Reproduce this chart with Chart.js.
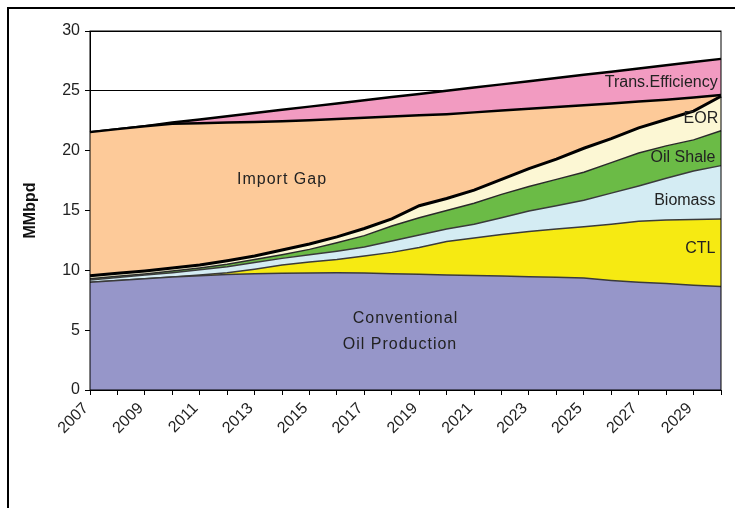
<!DOCTYPE html>
<html lang="en">
<head>
<meta charset="UTF-8">
<title>Oil supply chart</title>
<script src="https://cdn.jsdelivr.net/npm/chart.js"></script>
<style>
    html, body { margin: 0; padding: 0; background: #fff; }
    #wrap { position: relative; width: 735px; height: 508px; overflow: hidden; }
    #frame { position: absolute; left: 7px; top: 7px; width: 780px; height: 560px;
             border-top: 2px solid #000; border-left: 2px solid #000; pointer-events: none; }
</style>
</head>
<body>
<div id="wrap">
    <canvas id="oilChart" width="735" height="508"></canvas>
    <div id="frame"></div>
</div>
<script>
    // values, MMbpd per year
    const years = ['2007','2008','2009','2010','2011','2012','2013','2014','2015','2016','2017','2018',
                   '2019','2020','2021','2022','2023','2024','2025','2026','2027','2028','2029','2030'];
    const conventional = [9.0, 9.15, 9.3, 9.45, 9.55, 9.65, 9.72, 9.75, 9.78, 9.8, 9.78, 9.72,
                          9.68, 9.62, 9.56, 9.52, 9.47, 9.42, 9.35, 9.15, 9.0, 8.9, 8.75, 8.65];
    const ctl = [0, 0, 0, 0, 0.05, 0.15, 0.38, 0.7, 0.92, 1.1, 1.42, 1.78,
                 2.22, 2.78, 3.14, 3.48, 3.78, 4.03, 4.3, 4.7, 5.1, 5.3, 5.5, 5.63];
    const biomass = [0.2, 0.25, 0.3, 0.35, 0.45, 0.5, 0.55, 0.55, 0.6, 0.7, 0.75, 0.95,
                     1.05, 1.05, 1.15, 1.4, 1.7, 1.95, 2.2, 2.6, 2.95, 3.5, 4.05, 4.47];
    const oilShale = [0.1, 0.1, 0.1, 0.15, 0.15, 0.2, 0.25, 0.3, 0.45, 0.7, 0.95, 1.25,
                      1.45, 1.55, 1.75, 1.95, 2.05, 2.2, 2.35, 2.55, 2.75, 2.7, 2.6, 2.92];
    const eor = [0.25, 0.25, 0.25, 0.25, 0.25, 0.3, 0.3, 0.4, 0.45, 0.5, 0.6, 0.6,
                 1.0, 1.0, 1.1, 1.25, 1.5, 1.7, 2.0, 2.0, 2.1, 2.2, 2.4, 2.88];
    const importGap = [12.0, 12.05, 12.1, 12.05, 11.85, 11.55, 11.2, 10.75, 10.35, 9.85, 9.25, 8.55,
                       7.55, 7.05, 6.5, 5.75, 5.0, 4.35, 3.6, 2.95, 2.2, 1.65, 1.15, 0.1];
    const transEfficiency = [0, 0, 0, 0.1, 0.31, 0.53, 0.75, 0.96, 1.13, 1.29, 1.46, 1.63,
                             1.79, 1.96, 2.07, 2.19, 2.31, 2.42, 2.54, 2.65, 2.77, 2.89, 2.95, 3.02];
    const yTicks = [0, 5, 10, 15, 20, 25, 30];

    // text written inside the areas (x = category index, y = MMbpd)
    const areaLabels = [
        { text: 'Import Gap', x: 7.0, y: 17.6, align: 'center', spacing: '1px' },
        { text: 'Conventional', x: 11.5, y: 6.0, align: 'center', spacing: '1px' },
        { text: 'Oil Production', x: 11.3, y: 3.8, align: 'center', spacing: '1px' },
        { text: 'Trans.Efficiency', x: 22.88, y: 25.65, align: 'right', spacing: '0px' },
        { text: 'EOR', x: 22.9, y: 22.7, align: 'right', spacing: '0px' },
        { text: 'Oil Shale', x: 22.8, y: 19.4, align: 'right', spacing: '0px' },
        { text: 'Biomass', x: 22.8, y: 15.8, align: 'right', spacing: '0px' },
        { text: 'CTL', x: 22.8, y: 11.8, align: 'right', spacing: '0px' }
    ];

    const FONT = '"Liberation Sans", Arial, sans-serif';

    // frame round the plot and the labels in the areas
    const areaLabelPlugin = {
        id: 'areaLabels',
        afterDatasetsDraw(chart) {
            const { ctx, chartArea, scales } = chart;
            ctx.save();
            ctx.strokeStyle = '#000';
            ctx.lineWidth = 1;
            ctx.strokeRect(chartArea.left, chartArea.top, chartArea.right - chartArea.left, chartArea.bottom - chartArea.top);
            ctx.fillStyle = '#222';
            ctx.textBaseline = 'middle';
            ctx.font = '16px ' + FONT;
            areaLabels.forEach(function(l) {
                ctx.textAlign = l.align;
                ctx.letterSpacing = l.spacing;
                ctx.fillText(l.text, scales.x.getPixelForValue(l.x), scales.y.getPixelForValue(l.y));
            });
            ctx.restore();
        }
    };

    function layer(label, data, color, lineColor, lineWidth, fill) {
        return {
            label: label,
            data: data,
            backgroundColor: color,
            borderColor: lineColor,
            borderWidth: lineWidth,
            fill: fill,
            pointRadius: 0,
            tension: 0
        };
    }

    const ctx = document.getElementById('oilChart').getContext('2d');
    const oilChart = new Chart(ctx, {
        type: 'line',
        data: {
            labels: years,
            datasets: [
                layer('Conventional Oil Production', conventional, '#9696C9', '#3a3a3a', 1.5, 'origin'),
                layer('CTL', ctl, '#F6EA12', '#3a3a3a', 1.5, '-1'),
                layer('Biomass', biomass, '#D4ECF3', '#3a3a3a', 1.5, '-1'),
                layer('Oil Shale', oilShale, '#6BBB46', '#2a2a2a', 1.5, '-1'),
                layer('EOR', eor, '#FCF7D4', '#000', 3, '-1'),
                layer('Import Gap', importGap, '#FDCA99', '#000', 2.5, '-1'),
                layer('Trans.Efficiency', transEfficiency, '#F29BC1', '#000', 2.5, '-1')
            ]
        },
        options: {
            responsive: false,
            animation: false,
            devicePixelRatio: 1,
            layout: { padding: { top: 31, right: 14, bottom: 0, left: 0 } },
            plugins: {
                legend: { display: false },
                tooltip: { enabled: false }
            },
            scales: {
                x: {
                    offset: false,
                    grid: { drawOnChartArea: false, drawTicks: true, tickLength: 5, color: '#000' },
                    border: { display: true, color: '#000', width: 1 },
                    ticks: {
                        autoSkip: false,
                        maxRotation: 45,
                        minRotation: 45,
                        padding: 4,
                        labelOffset: -4,
                        color: '#222',
                        font: { family: FONT, size: 16 },
                        callback: function(val, index) {
                            return index % 2 === 0 ? this.getLabelForValue(val) : '';
                        }
                    },
                    afterFit: function(scale) {
                        scale.height = 118;
                        scale.paddingRight = 0;
                    }
                },
                y: {
                    stacked: true,
                    min: 0,
                    max: 30,
                    afterBuildTicks: function(scale) {
                        scale.ticks = yTicks.map(v => ({ value: v }));
                    },
                    grid: { color: '#000', lineWidth: 1, drawTicks: true, tickLength: 5 },
                    border: { display: true, color: '#000', width: 1 },
                    ticks: {
                        padding: 5,
                        color: '#222',
                        font: { family: FONT, size: 16 }
                    },
                    title: {
                        display: true,
                        text: 'MMbpd',
                        color: '#111',
                        font: { family: FONT, size: 16, weight: 'bold' },
                        padding: { top: 21, bottom: 0 }
                    },
                    afterFit: function(scale) { scale.width = 90; }
                }
            }
        },
        plugins: [areaLabelPlugin]
    });
</script>
</body>
</html>
